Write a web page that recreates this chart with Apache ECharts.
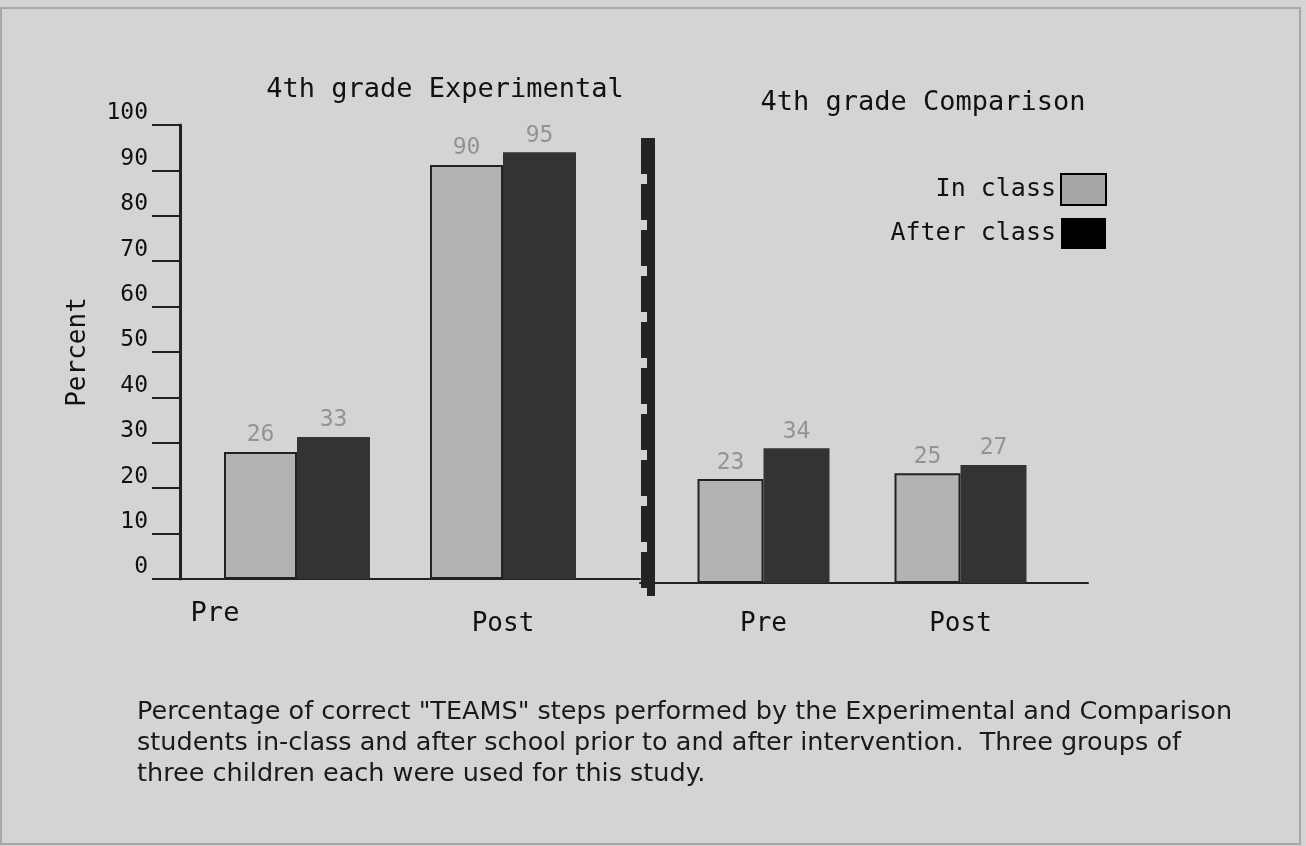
<!DOCTYPE html>
<html>
<head>
<meta charset="utf-8">
<script src="https://cdn.jsdelivr.net/npm/echarts@6/dist/echarts.min.js"></script>
<style>
  html, body { margin: 0; padding: 0; background: #d4d4d4; }
  #chart { width: 1306px; height: 846px; }
</style>
</head>
<body>
<div id="chart"></div>
<script>
// categories and values
const categories = ['Pre', 'Post']
const panelTitles = ['4th grade Experimental', '4th grade Comparison']
const seriesNames = ['In class', 'After class']
// bar heights as drawn (percent)
const expInClass = [28, 91.2]
const expAfterClass = [31.3, 94]
const cmpInClass = [22.9, 24.2]
const cmpAfterClass = [29.7, 26]
// numbers printed above the bars
const expInClassLabels = [26, 90]
const expAfterClassLabels = [33, 95]
const cmpInClassLabels = [23, 25]
const cmpAfterClassLabels = [34, 27]
const yTicks = [0, 10, 20, 30, 40, 50, 60, 70, 80, 90, 100]
const captionLines = [
    'Percentage of correct "TEAMS" steps performed by the Experimental and Comparison',
    'students in-class and after school prior to and after intervention.  Three groups of',
    'three children each were used for this study.'
]

const font = 'DejaVu Sans Mono'
const captionFont = 'DejaVu Sans'
const inColor = '#b3b3b3'
const afterColor = '#333333'

function barLabel(labels) {
    return {
        show: true,
        position: 'top',
        distance: 5,
        color: '#939393',
        fontFamily: font,
        fontSize: 23,
        formatter: p => labels[p.dataIndex]
    }
}

const chart = echarts.init(document.getElementById('chart'))

const option = {
    backgroundColor: '#d4d4d4',
    animation: false,
    title: [
        {
            text: panelTitles[0],
            left: 440,
            top: 71,
            textAlign: 'center',
            textStyle: { fontFamily: font, fontSize: 27, fontWeight: 'normal', color: '#111' }
        },
        {
            text: panelTitles[1],
            left: 918,
            top: 84,
            textAlign: 'center',
            textStyle: { fontFamily: font, fontSize: 27, fontWeight: 'normal', color: '#111' }
        },
        {
            text: captionLines.join('\n'),
            left: 132,
            top: 692,
            textStyle: { fontFamily: captionFont, fontSize: 25.5, fontWeight: 'normal', color: '#1a1a1a', lineHeight: 31 }
        }
    ],
    legend: {
        orient: 'vertical',
        right: 194,
        top: 168,
        align: 'right',
        icon: 'rect',
        itemWidth: 45,
        itemHeight: 31,
        itemGap: 12,
        data: [
            { name: seriesNames[0], itemStyle: { color: '#a6a6a6', borderColor: '#000', borderWidth: 2 } },
            { name: seriesNames[1], itemStyle: { color: '#000' } }
        ],
        textStyle: { fontFamily: font, fontSize: 25, color: '#111' }
    },
    grid: [
        { left: 194, top: 125, width: 412, height: 454 }, // experimental bars
        { left: 180, top: 125, width: 460, height: 454 }, // experimental frame
        { left: 665, top: 129, width: 394, height: 454 }, // comparison bars
        { left: 640, top: 129, width: 448, height: 454 } // comparison frame
    ],
    xAxis: [
        {
            gridIndex: 0,
            type: 'category',
            data: categories,
            axisLine: { show: false },
            axisTick: { show: false },
            axisLabel: {
                margin: 21,
                fontFamily: font,
                fontSize: 27,
                color: '#111',
                formatter: v => (v === 'Pre' ? '{a|' + v + '}' : '{b|' + v + '}'),
                rich: {
                    a: { fontFamily: font, fontSize: 27, color: '#111', padding: [0, 164, 0, 0] },
                    b: { fontFamily: font, fontSize: 26, color: '#111', padding: [11, 0, 0, 0] }
                }
            }
        },
        {
            gridIndex: 1,
            type: 'value',
            min: 0,
            max: 1,
            axisLine: { show: true, lineStyle: { color: '#222', width: 2 } },
            axisTick: { show: false },
            axisLabel: { show: false },
            splitLine: { show: false }
        },
        {
            gridIndex: 2,
            type: 'category',
            data: categories,
            axisLine: { show: false },
            axisTick: { show: false },
            axisLabel: {
                margin: 28,
                fontFamily: font,
                fontSize: 26,
                color: '#111'
            }
        },
        {
            gridIndex: 3,
            type: 'value',
            min: 0,
            max: 1,
            axisLine: { show: true, lineStyle: { color: '#222', width: 2 } },
            axisTick: { show: false },
            axisLabel: { show: false },
            splitLine: { show: false }
        }
    ],
    yAxis: [
        { gridIndex: 0, type: 'value', min: 0, max: 100, show: false },
        {
            gridIndex: 1,
            type: 'value',
            min: 0,
            max: 100,
            interval: 10,
            name: 'Percent',
            nameLocation: 'middle',
            nameRotate: 90,
            nameGap: 89,
            nameTextStyle: { fontFamily: font, fontSize: 26, color: '#111' },
            axisLine: { show: true, lineStyle: { color: '#222', width: 3 } },
            axisTick: { show: true, length: 28, lineStyle: { color: '#222', width: 2 } },
            axisLabel: {
                margin: 32,
                verticalAlign: 'bottom',
                fontFamily: font,
                fontSize: 23,
                color: '#111',
                formatter: v => (yTicks.indexOf(v) >= 0 ? String(v) : '')
            },
            splitLine: { show: false }
        },
        { gridIndex: 2, type: 'value', min: 0, max: 100, show: false },
        { gridIndex: 3, type: 'value', min: 0, max: 100, show: false }
    ],
    series: [
        {
            name: seriesNames[0],
            type: 'bar',
            xAxisIndex: 0,
            yAxisIndex: 0,
            data: expInClass,
            barWidth: 73,
            barGap: '0%',
            itemStyle: { color: inColor, borderColor: '#222', borderWidth: 2 },
            label: barLabel(expInClassLabels)
        },
        {
            name: seriesNames[1],
            type: 'bar',
            xAxisIndex: 0,
            yAxisIndex: 0,
            data: expAfterClass,
            barWidth: 73,
            barGap: '0%',
            itemStyle: { color: afterColor },
            label: barLabel(expAfterClassLabels)
        },
        {
            name: seriesNames[0],
            type: 'bar',
            xAxisIndex: 2,
            yAxisIndex: 2,
            data: cmpInClass,
            barWidth: 66,
            barGap: '0%',
            itemStyle: { color: inColor, borderColor: '#222', borderWidth: 2 },
            label: barLabel(cmpInClassLabels)
        },
        {
            name: seriesNames[1],
            type: 'bar',
            xAxisIndex: 2,
            yAxisIndex: 2,
            data: cmpAfterClass,
            barWidth: 66,
            barGap: '0%',
            itemStyle: { color: afterColor },
            label: barLabel(cmpAfterClassLabels)
        }
    ],
    graphic: [
        // panel divider: solid bar with a notched edge
        {
            type: 'line',
            shape: { x1: 651, y1: 138, x2: 651, y2: 596 },
            style: { stroke: '#222', lineWidth: 8 }
        },
        {
            type: 'line',
            shape: { x1: 644, y1: 138, x2: 644, y2: 596 },
            style: { stroke: '#222', lineWidth: 6, lineDash: [36, 10] }
        },
        // scan frame
        {
            type: 'rect',
            shape: { x: 1, y: 8, width: 1299, height: 836 },
            style: { fill: 'none', stroke: '#a8a8a8', lineWidth: 2 }
        }
    ]
}

chart.setOption(option)
window.addEventListener('resize', () => chart.resize())
</script>
</body>
</html>
